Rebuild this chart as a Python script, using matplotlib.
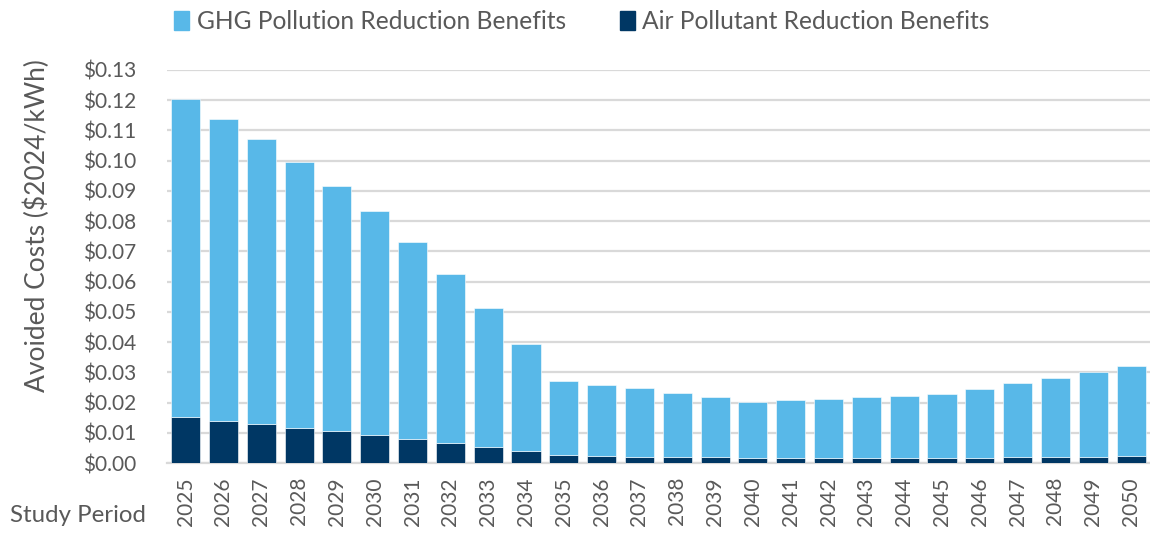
import numpy as np
import matplotlib.pyplot as plt
from matplotlib.patches import Patch

years = list(range(2025, 2051))

# air pollutant part of the avoided cost, $/kWh
air = [0.0152, 0.0140, 0.0129, 0.0116, 0.0106, 0.0093, 0.0079, 0.0066, 0.0053,
       0.0039, 0.0027, 0.0024, 0.0021, 0.0020, 0.0019, 0.0017, 0.0017, 0.0017,
       0.0017, 0.0017, 0.0017, 0.0017, 0.0019, 0.0021, 0.0022, 0.0024]

# total avoided cost (GHG + air), $/kWh
total = [0.1203, 0.1139, 0.1070, 0.0995, 0.0917, 0.0835, 0.0732, 0.0625, 0.0513,
         0.0395, 0.0271, 0.0260, 0.0247, 0.0233, 0.0218, 0.0203, 0.0208, 0.0213,
         0.0218, 0.0223, 0.0228, 0.0246, 0.0264, 0.0282, 0.0301, 0.0321]

ghg = [t - a for t, a in zip(total, air)]

light_blue = '#58b8e8'
navy = '#003764'
grey_txt = '#595959'

plt.rcParams['font.family'] = ['Lato', 'DejaVu Sans']

fig = plt.figure(figsize=(11.5, 5.33), dpi=100)
ax = fig.add_axes([0.145, 0.131, 0.855, 0.738])

x = np.arange(len(years))
ax.bar(x, air, width=0.77, color=navy, edgecolor='white', linewidth=0.4, zorder=3)
ax.bar(x, ghg, width=0.77, bottom=air, color=light_blue, edgecolor='white', linewidth=0.4, zorder=3)

ax.set_xlim(-0.5, len(years) - 0.5)
ax.set_ylim(0, 0.13)
ax.set_yticks(np.arange(0, 0.1301, 0.01))
ax.set_yticklabels(['${:.2f}'.format(v) for v in np.arange(0, 0.1301, 0.01)])
ax.set_xticks(x)
ax.set_xticklabels([str(y) for y in years], rotation=90)

ax.yaxis.grid(True, color='#d9d9d9', linewidth=1.6, zorder=0)
ax.set_axisbelow(True)
for s in ['top', 'right', 'left']:
    ax.spines[s].set_visible(False)
ax.spines['bottom'].set_color('#d9d9d9')
ax.spines['bottom'].set_linewidth(1.6)
ax.tick_params(axis='both', length=0, labelsize=15, colors=grey_txt)
ax.tick_params(axis='y', pad=22)
ax.tick_params(axis='x', pad=10)

fig.text(0.032, 0.576, 'Avoided Costs ($2024/kWh)', fontsize=19, color=grey_txt,
         rotation=90, ha='center', va='center')
fig.text(0.009, 0.013, 'Study Period', fontsize=17.3, color=grey_txt, ha='left', va='bottom')

handles = [Patch(color=light_blue), Patch(color=navy)]
labels = ['GHG Pollution Reduction Benefits', 'Air Pollutant Reduction Benefits']
fig.legend(handles, labels, loc='center', bbox_to_anchor=(0.506, 0.959), ncol=2,
           frameon=False, fontsize=17.7, labelcolor=grey_txt, handlelength=0.6,
           handleheight=0.8, handletextpad=0.3, columnspacing=2.2)

fig.savefig('out.png', dpi=100)
